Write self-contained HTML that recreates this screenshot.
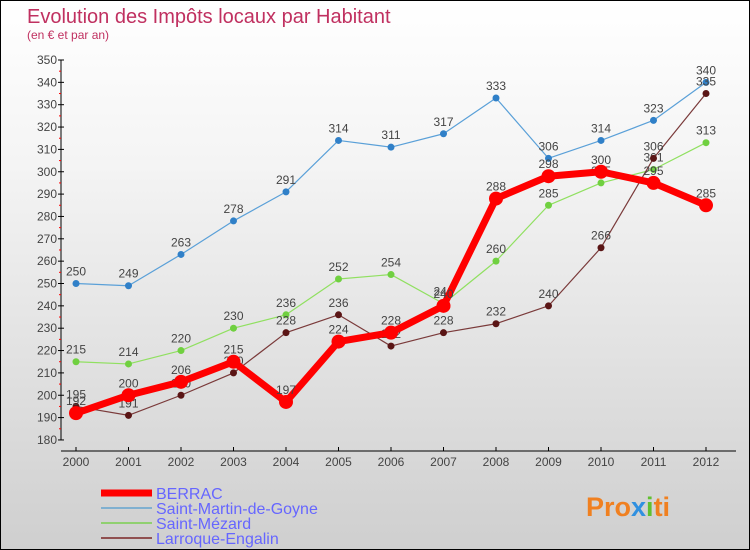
<!DOCTYPE html>
<html><head><meta charset="utf-8"><style>
body{margin:0}
#c{width:748px;height:548px;border:1px solid #000;background:linear-gradient(#fff,#f4f4f4 30%,#cfcfcf);position:relative;overflow:hidden;font-family:"Liberation Sans",sans-serif}
</style></head><body>
<div id="c">
<svg id="s" width="748" height="548" style="position:absolute;left:0;top:0">
<text x="26" y="22" font-size="20" fill="#c03060">Evolution des Impôts locaux par Habitant</text>
<text x="26" y="38" font-size="12" fill="#c03060">(en € et par an)</text>
<g id="ax"></g><g id="ser"></g><g id="leg"></g>
<text x="585" y="515" font-size="27" font-weight="bold" fill="#f08020">Pro<tspan fill="#3090e0">x</tspan><tspan fill="#60c030">i</tspan>ti</text>
</svg>
</div>
<script>
const years=["2000","2001","2002","2003","2004","2005","2006","2007","2008","2009","2010","2011","2012"];
const yTicks=[180,190,200,210,220,230,240,250,260,270,280,290,300,310,320,330,340,350];
const berrac=[192,200,206,215,197,224,228,240,288,298,300,295,285];
const stMartin=[250,249,263,278,291,314,311,317,333,306,314,323,340];
const stMezard=[215,214,220,230,236,252,254,241,260,285,295,301,313];
const larroque=[195,191,200,210,228,236,222,228,232,240,266,306,335];
const NS="http://www.w3.org/2000/svg";
const X=i=>75+i*52.5, Y=v=>59+(350-v)*2.235;
function mk(p,t,a){const e=document.createElementNS(NS,t);for(const k in a)e.setAttribute(k,a[k]);p.appendChild(e);return e;}
const ax=document.getElementById('ax');
let l=mk(ax,'line',{x1:60,y1:Y(350),x2:60,y2:Y(180),stroke:'#000'});


l=mk(ax,'line',{x1:60,y1:450,x2:735,y2:450,stroke:'#000'});


yTicks.forEach(v=>{mk(ax,'line',{x1:57,x2:63,y1:Y(v),y2:Y(v),stroke:'#000'});
 if(v<350)mk(ax,'line',{x1:58,x2:60,y1:Y(v+5),y2:Y(v+5),stroke:'#f00'});
 const t=mk(ax,'text',{x:56,y:Y(v)+4,'font-size':12,fill:'#444','text-anchor':'end'});t.textContent=v;
 
 });
years.forEach((y,i)=>{mk(ax,'line',{x1:X(i),x2:X(i),y1:446,y2:450,stroke:'#000'});
 const t=mk(ax,'text',{x:X(i),y:465,'font-size':12,fill:'#444','text-anchor':'middle'});t.textContent=y;
 
 });
const ser=document.getElementById('ser');
function series(d,col,dot,w,r,name){const g=mk(ser,'g',{});
 
 
 mk(g,'polyline',{points:d.map((v,i)=>X(i)+','+Y(v)).join(' '),fill:'none',stroke:col,'stroke-width':w,'stroke-linejoin':'round'});
 d.forEach((v,i)=>{const c=mk(g,'circle',{cx:X(i),cy:Y(v),r:r,fill:dot});
  
  
  const t=mk(g,'text',{x:X(i),y:Y(v)-8,'font-size':12,fill:'#444','text-anchor':'middle'});t.textContent=v;});}
series(stMartin,'#5aa0d8','#3080c8',1.2,3.5,'saint-martin-series');
series(stMezard,'#90e060','#70d040',1.2,3.5,'saint-mezard-series');
series(larroque,'#7a3a3a','#5a1515',1.2,3.5,'larroque-series');
series(berrac,'#f00','#f00',7,7,'berrac-series');
const leg=document.getElementById('leg');
[['BERRAC','#f00',7],['Saint-Martin-de-Goyne','#80b0d0',2],['Saint-Mézard','#90d070',2],['Larroque-Engalin','#905050',2]].forEach((e,i)=>{
 const y=492+i*15;
 const ln=mk(leg,'line',{x1:100,x2:151,y1:y,y2:y,stroke:e[1],'stroke-width':e[2]});
 
 
 const t=mk(leg,'text',{x:155,y:y+6,'font-size':16,fill:'#6666ff'});t.textContent=e[0];
 
 });
</script>
</body></html>
